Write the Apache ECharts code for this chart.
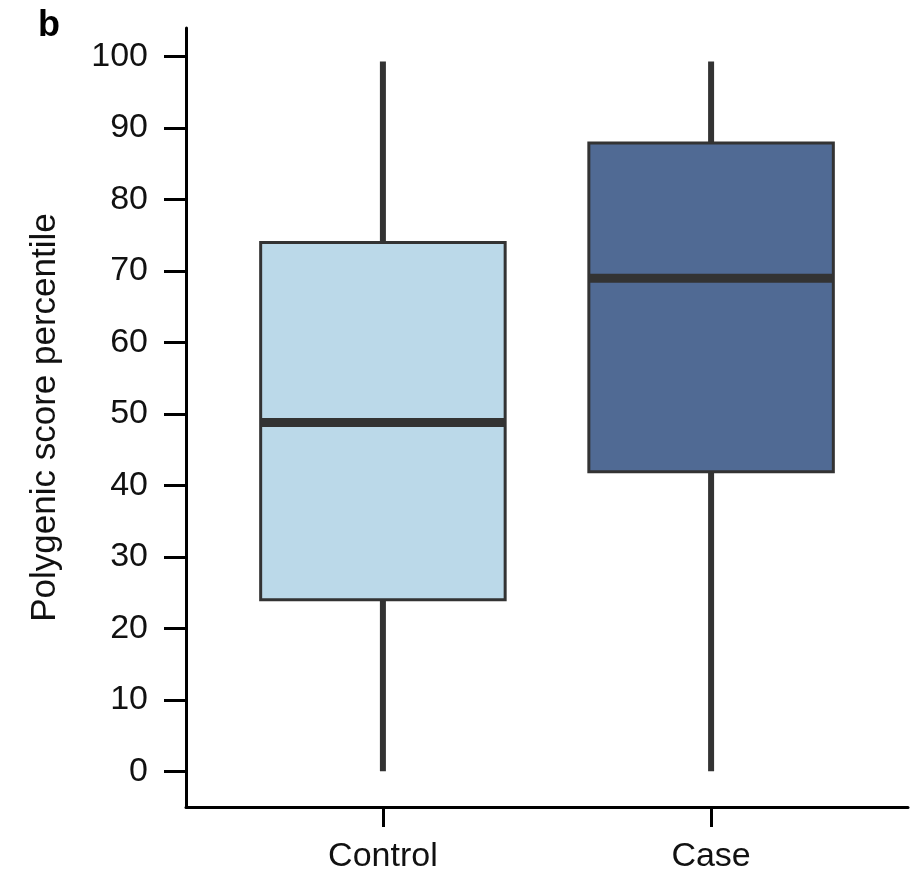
<!DOCTYPE html>
<html lang="en">
<head>
    <meta charset="UTF-8">
    <title>Polygenic score percentile</title>
    <script src="https://cdn.jsdelivr.net/npm/echarts@6/dist/echarts.min.js"></script>
    <style>
        html, body { margin: 0; padding: 0; background: #fff; }
        #chart { width: 921px; height: 874px; }
    </style>
</head>
<body>
    <div id="chart"></div>
    <script>
        // groups and box stats: [min, Q1, median, Q3, max]
        var groups = ['Control', 'Case'];
        var controlStats = [0, 24, 48.8, 74, 99.3];
        var caseStats = [0, 41.9, 69, 87.9, 99.3];
        var boxColors = ['#bbd9e9', '#506a94'];
        var yTicks = [0, 10, 20, 30, 40, 50, 60, 70, 80, 90, 100];

        var boxData = [
            [0].concat(controlStats),
            [1].concat(caseStats)
        ];

        var font = 'Liberation Sans, Arial, Helvetica, sans-serif';
        var chart = echarts.init(document.getElementById('chart'));
        chart.setOption({
            animation: false,
            title: {
                text: 'b',
                left: 33,
                top: 3,
                textStyle: { fontFamily: font, fontSize: 36, fontWeight: 'bold', color: '#000' }
            },
            grid: { left: 186, right: 13, top: 28, bottom: 67 },
            xAxis: {
                type: 'value',
                min: -0.6,
                max: 1.6,
                splitLine: { show: false },
                axisLine: { show: true, onZero: false, lineStyle: { color: '#000', width: 3 } },
                axisTick: { show: true, customValues: [0, 1], length: 20, lineStyle: { color: '#000', width: 3 } },
                axisLabel: {
                    customValues: [0, 1],
                    formatter: function (v) { return groups[Math.round(v)]; },
                    margin: 33,
                    fontFamily: font,
                    fontSize: 34,
                    color: '#111'
                }
            },
            yAxis: {
                type: 'value',
                min: -5,
                max: 104,
                name: 'Polygenic score percentile',
                nameLocation: 'middle',
                nameGap: 123,
                nameTextStyle: { fontFamily: font, fontSize: 35, color: '#111' },
                splitLine: { show: false },
                axisLine: { show: true, onZero: false, lineStyle: { color: '#000', width: 3 } },
                axisTick: { show: true, customValues: yTicks, length: 22, lineStyle: { color: '#000', width: 3 } },
                axisLabel: {
                    customValues: yTicks,
                    margin: 38,
                    fontFamily: font,
                    fontSize: 34,
                    color: '#111'
                }
            },
            series: [{
                type: 'custom',
                data: boxData,
                encode: { x: 0, y: [1, 2, 3, 4, 5] },
                renderItem: function (params, api) {
                    var x = api.value(0);
                    var lo = api.coord([x, api.value(1)]);
                    var q1 = api.coord([x, api.value(2)]);
                    var md = api.coord([x, api.value(3)]);
                    var q3 = api.coord([x, api.value(4)]);
                    var hi = api.coord([x, api.value(5)]);
                    var half = api.size([0.745, 0])[0] / 2;
                    return {
                        type: 'group',
                        children: [{
                            type: 'line',
                            shape: { x1: lo[0], y1: lo[1], x2: hi[0], y2: hi[1] },
                            style: { stroke: '#333', lineWidth: 6 }
                        }, {
                            type: 'rect',
                            shape: { x: q3[0] - half, y: q3[1], width: half * 2, height: q1[1] - q3[1] },
                            style: { fill: boxColors[params.dataIndex], stroke: '#333', lineWidth: 3 }
                        }, {
                            type: 'line',
                            shape: { x1: md[0] - half, y1: md[1], x2: md[0] + half, y2: md[1] },
                            style: { stroke: '#333', lineWidth: 9 }
                        }]
                    };
                }
            }]
        });
    </script>
</body>
</html>
